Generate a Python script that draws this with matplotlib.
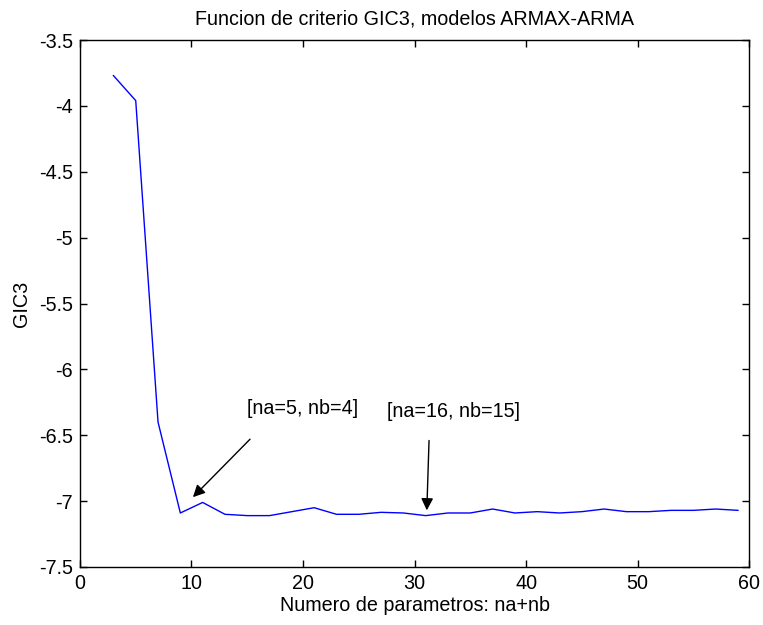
import matplotlib
matplotlib.use("Agg")
import matplotlib.pyplot as plt

x_params = [3, 5, 7, 9, 11, 13, 15, 17, 19, 21, 23, 25, 27, 29, 31, 33, 35, 37, 39, 41,
            43, 45, 47, 49, 51, 53, 55, 57, 59]
gic3 = [-3.77, -3.96, -6.40, -7.09, -7.01, -7.10, -7.11, -7.11, -7.08, -7.05, -7.10, -7.10,
        -7.085, -7.09, -7.11, -7.09, -7.09, -7.06, -7.09, -7.08, -7.09, -7.08, -7.06, -7.08,
        -7.08, -7.07, -7.07, -7.06, -7.07]
x_ticks = [0, 10, 20, 30, 40, 50, 60]
y_ticks = [-7.5, -7, -6.5, -6, -5.5, -5, -4.5, -4, -3.5]
y_ticklabels = ["-7.5", "-7", "-6.5", "-6", "-5.5", "-5", "-4.5", "-4", "-3.5"]
notes = ["[na=5, nb=4]", "[na=16, nb=15]"]
note_xy = [(15.0, -6.30), (27.5, -6.32)]
arrow_tail = [(15.25, -6.53), (31.3, -6.54)]
arrow_head = [(10.13, -6.97), (31.1, -7.07)]

plt.rcParams['font.family'] = ['Liberation Sans', 'DejaVu Sans']
FS = 14.2
fig = plt.figure(figsize=(7.63, 6.25), dpi=100)
ax = fig.add_axes([0.1048, 0.0928, 0.877, 0.8432])
ax.plot(x_params, gic3, color='#0000ff', lw=1.0)
ax.set_xlim(0, 60)
ax.set_ylim(-7.5, -3.5)
ax.set_xticks(x_ticks)
ax.set_yticks(y_ticks)
ax.set_yticklabels(y_ticklabels)
ax.tick_params(direction='in', top=True, right=True, labelsize=FS, length=5, width=1, pad=5)
for s in ax.spines.values():
    s.set_linewidth(1.0)
ax.set_title("Funcion de criterio GIC3, modelos ARMAX-ARMA", fontsize=FS, pad=11)
ax.set_xlabel("Numero de parametros: na+nb", fontsize=FS, labelpad=2)
ax.set_ylabel("GIC3", fontsize=FS, labelpad=6)

for t, p in zip(notes, note_xy):
    ax.text(p[0], p[1], t, fontsize=FS, ha='left', va='center')
for a, b in zip(arrow_tail, arrow_head):
    ax.annotate("", xy=b, xytext=a,
                arrowprops=dict(arrowstyle='-|>', color='black', lw=1, mutation_scale=18,
                                shrinkA=0, shrinkB=0))
fig.savefig("out.png", dpi=100)
